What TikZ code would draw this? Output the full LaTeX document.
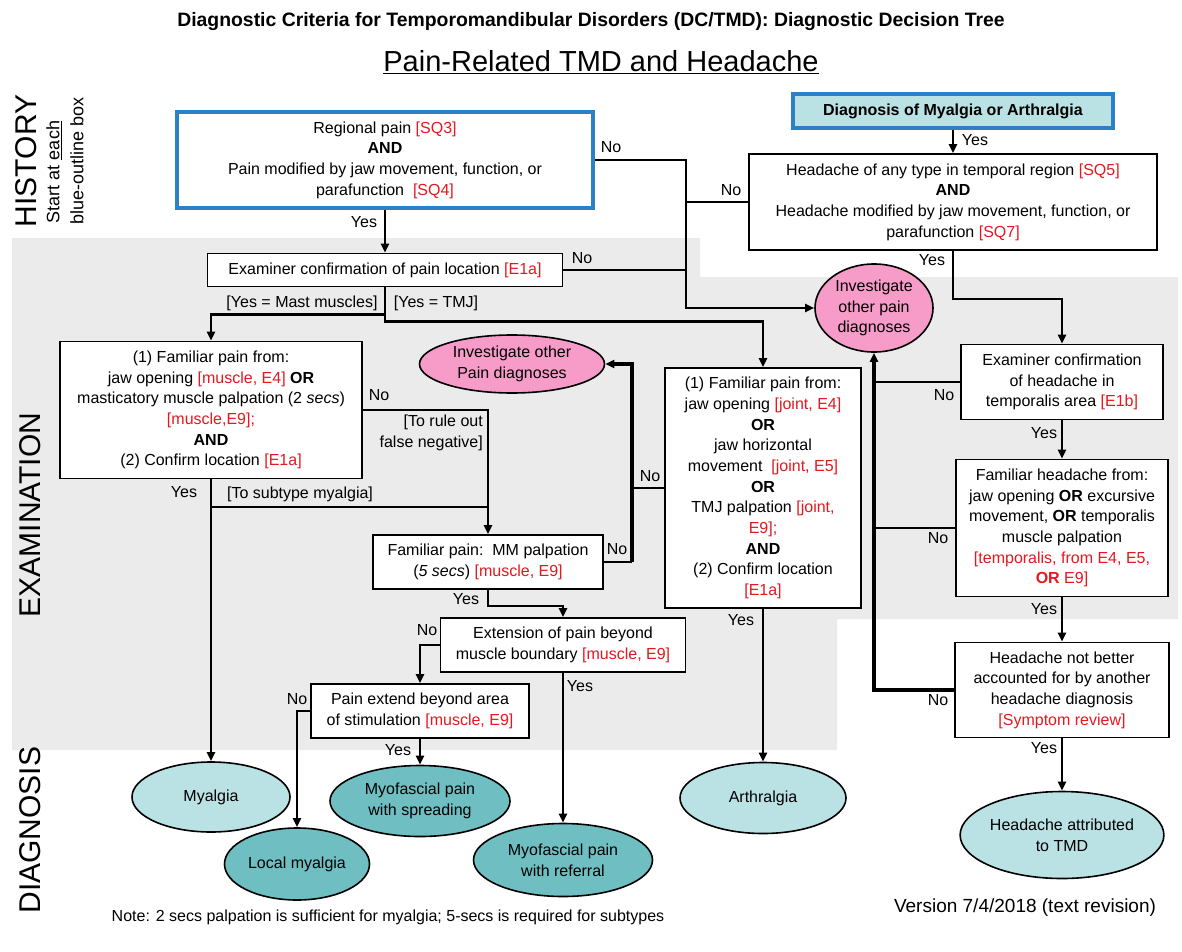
\documentclass[tikz,border=0pt]{standalone}
\usepackage{fontspec}
\setmainfont{Liberation Sans}
\usetikzlibrary{shapes.geometric,arrows.meta}
\definecolor{refred}{HTML}{E3191F}
\definecolor{boxblue}{HTML}{2C80C8}
\definecolor{lightteal}{HTML}{BAE1E4}
\definecolor{darkteal}{HTML}{6FBFC2}
\definecolor{pinkfill}{HTML}{F79BC9}
\definecolor{bandgray}{HTML}{EBEBEB}
\newcommand{\crit}[1]{\textcolor{refred}{#1}}
\tikzset{
  txt/.style={font=\fontsize{16}{20.7}\selectfont, align=center, inner sep=0pt},
  box/.style={txt, draw, line width=1.8pt, fill=white},
  bluebox/.style={box, draw=boxblue, line width=3.5pt},
  oval/.style={txt, ellipse, draw, line width=1.6pt},
  pinkoval/.style={oval, fill=pinkfill},
  lbl/.style={txt},
  side/.style={font=\fontsize{30}{30}\selectfont, rotate=90, inner sep=0pt},
  conn/.style={line width=2.6pt},
  trunk/.style={line width=3.4pt},
  arr/.style={conn, -{Triangle[length=9pt,width=8pt]}}
}
\begin{document}
\begin{tikzpicture}[x=1pt,y=-1pt]
\useasboundingbox (0,0) rectangle (1182,952);
\fill[bandgray] (12,238) -- (700,238) -- (700,277) -- (1178,277) -- (1178,619) -- (837,619) -- (837,750) -- (12,750) -- cycle;

\node[inner sep=0pt, font=\fontsize{19.4}{22}\selectfont\bfseries] (title) at (591,22) {Diagnostic Criteria for Temporomandibular Disorders (DC/TMD): Diagnostic Decision Tree};
\node[inner sep=0pt, font=\fontsize{29}{32}\selectfont] (subtitle) at (601,62) {\underline{Pain-Related TMD and Headache}};
\node[side] (history) at (26,161) {HISTORY};
\node[side, font=\fontsize{18}{18}\selectfont] (start) at (54,172) {Start at \underline{each}};
\node[side, font=\fontsize{18}{18}\selectfont] (blue) at (77,161) {blue-outline box};
\node[side] (exam) at (30,515) {EXAMINATION};
\node[side] (diag) at (30,830) {DIAGNOSIS};

\node[bluebox, minimum width=416pt, minimum height=96pt] (regional) at (385,160) {Regional pain \crit{[SQ3]}\\\textbf{AND}\\Pain modified by jaw movement, function, or\\parafunction\ \ \crit{[SQ4]}};
\node[bluebox, fill=lightteal, minimum width=320pt, minimum height=34pt] (dx) at (953,111) {\textbf{Diagnosis of Myalgia or Arthralgia}};
\node[box, minimum width=408pt, minimum height=96pt] (hda) at (953,202) {Headache of any type in temporal region \crit{[SQ5]}\\\textbf{AND}\\Headache modified by jaw movement, function, or\\parafunction \crit{[SQ7]}};
\node[box, minimum width=355pt, minimum height=33pt] (examiner) at (385,270) {Examiner confirmation of pain location \crit{[E1a]}};
\node[pinkoval, minimum width=118pt, minimum height=88pt] (invA) at (874,308) {Investigate\\other pain\\diagnoses};
\node[box, minimum width=302pt, minimum height=137pt] (musc) at (211,410) {(1) Familiar pain from:\\jaw opening \crit{[muscle, E4]} \textbf{OR}\\masticatory muscle palpation (2 \textit{secs})\\\crit{[muscle,E9];}\\\textbf{AND}\\(2) Confirm location \crit{[E1a]}};
\node[pinkoval, minimum width=185pt, minimum height=58pt] (invB) at (512,364) {Investigate other\\Pain diagnoses};
\node[box, minimum width=196pt, minimum height=240pt] (mid) at (763,488) {(1) Familiar pain from:\\jaw opening \crit{[joint, E4]}\\\textbf{OR}\\jaw horizontal\\movement\ \ \crit{[joint, E5]}\\\textbf{OR}\\TMJ palpation \crit{[joint,}\\\crit{E9];}\\\textbf{AND}\\(2) Confirm location\\\crit{[E1a]}};
\node[box, minimum width=230pt, minimum height=54pt] (mm) at (488,562) {Familiar pain:\ \ MM palpation\\(\textit{5 secs}) \crit{[muscle, E9]}};
\node[box, minimum width=245pt, minimum height=54pt] (ext) at (563,645) {Extension of pain beyond\\muscle boundary \crit{[muscle, E9]}};
\node[box, minimum width=218pt, minimum height=54pt] (pext) at (420,711) {Pain extend beyond area\\of stimulation \crit{[muscle, E9]}};
\node[box, minimum width=202pt, minimum height=75pt] (exh) at (1062,382) {Examiner confirmation\\of headache in\\temporalis area \crit{[E1b]}};
\node[box, minimum width=212pt, minimum height=137pt] (fh) at (1062,528) {Familiar headache from:\\jaw opening \textbf{OR} excursive\\movement, \textbf{OR} temporalis\\muscle palpation\\\crit{[temporalis, from E4, E5,}\\\crit{\textbf{OR} E9]}};
\node[box, minimum width=214pt, minimum height=95pt] (hnb) at (1062,690) {Headache not better\\accounted for by another\\headache diagnosis\\\crit{[Symptom review]}};

\node[oval, fill=lightteal, minimum width=158pt, minimum height=70pt] (myalgia) at (211,797) {Myalgia};
\node[oval, fill=darkteal, minimum width=180pt, minimum height=71pt] (spread) at (420,801) {Myofascial pain\\with spreading};
\node[oval, fill=darkteal, minimum width=145pt, minimum height=72pt] (local) at (297,864) {Local myalgia};
\node[oval, fill=darkteal, minimum width=179pt, minimum height=73pt] (referral) at (563,860) {Myofascial pain\\with referral};
\node[oval, fill=lightteal, minimum width=166pt, minimum height=71pt] (arth) at (763,798) {Arthralgia};
\node[oval, fill=lightteal, minimum width=160pt, minimum height=87pt] (hat) at (1062,835) {Headache attributed\\to TMD};

\coordinate (jn) at (686,308);
\coordinate (jb) at (632,364);
\coordinate (jh) at (874,500);
\coordinate (sub) at (211,507);

\draw[arr] (regional) -- (examiner);
\draw[arr] (regional.east) -| (jn) -- (invA.west);
\draw[conn] (hda.west) -- (hda.west -| jn);
\draw[conn] (examiner.east) -- (examiner.east -| jn);
\draw[arr] (dx) -- (hda);
\draw[arr] (hda.south) -- ++(0,48) -| (exh.north);
\draw[arr] (examiner.south) -- ++(0,27) -| (musc.north);
\draw[arr] (examiner.south) -- ++(0,34) -| (mid.north);
\draw[arr] (musc.east) -| (mm.north);
\draw[arr] (musc) -- (myalgia);
\draw[conn] (sub) -- (sub -| mm.north);
\draw[conn] (mm.east) -- (mm.east -| jb);
\draw[arr, trunk] (mm.east -| jb) -- (jb) -- (invB.east);
\draw[conn] (mid.west) -- (mid.west -| jb);
\draw[arr] (mm.south) -- ++(0,16) -| (ext.north);
\draw[arr] (ext.west) -| (pext.north);
\draw[arr] (ext) -- (referral);
\draw[arr] (pext.west) -| (local.north);
\draw[arr] (pext) -- (spread);
\draw[arr] (mid) -- (arth);
\draw[arr] (exh) -- (fh);
\draw[arr] (fh) -- (hnb);
\draw[arr] (hnb) -- (hat);
\draw[arr, trunk] (hnb.west) -| (invA.south);
\draw[conn] (exh.west) -- (exh.west -| jh);
\draw[conn] (fh.west) -- (fh.west -| jh);

\node[lbl] (l1) at (364,222) {Yes};
\node[lbl] (l2) at (611,147) {No};
\node[lbl] (l3) at (731,190) {No};
\node[lbl] (l4) at (582,258) {No};
\node[lbl] (l5) at (975,140) {Yes};
\node[lbl] (l6) at (932,260) {Yes};
\node[lbl] (l7) at (302,303) {[Yes = Mast muscles]};
\node[lbl] (l8) at (436,303) {[Yes = TMJ]};
\node[lbl] (l9) at (379,395) {No};
\node[lbl, anchor=east, align=right] (l10) at (483,433) {[To rule out\\false negative]};
\node[lbl] (l11) at (184,492) {Yes};
\node[lbl] (l12) at (300,494) {[To subtype myalgia]};
\node[lbl] (l13) at (617,549) {No};
\node[lbl] (l14) at (650,476) {No};
\node[lbl] (l15) at (466,599) {Yes};
\node[lbl] (l16) at (427,630) {No};
\node[lbl] (l17) at (580,686) {Yes};
\node[lbl] (l18) at (297,699) {No};
\node[lbl] (l19) at (398,750) {Yes};
\node[lbl] (l20) at (741,620) {Yes};
\node[lbl] (l21) at (944,395) {No};
\node[lbl] (l22) at (1044,433) {Yes};
\node[lbl] (l23) at (938,538) {No};
\node[lbl] (l24) at (1044,609) {Yes};
\node[lbl] (l25) at (938,700) {No};
\node[lbl] (l26) at (1044,748) {Yes};

\node[inner sep=0pt, font=\fontsize{16}{18}\selectfont] (note) at (388,917) {Note: 2 secs palpation is sufficient for myalgia; 5-secs is required for subtypes};
\node[inner sep=0pt, font=\fontsize{19}{22}\selectfont] (version) at (1025,908) {Version 7/4/2018 (text revision)};
\end{tikzpicture}
\end{document}
